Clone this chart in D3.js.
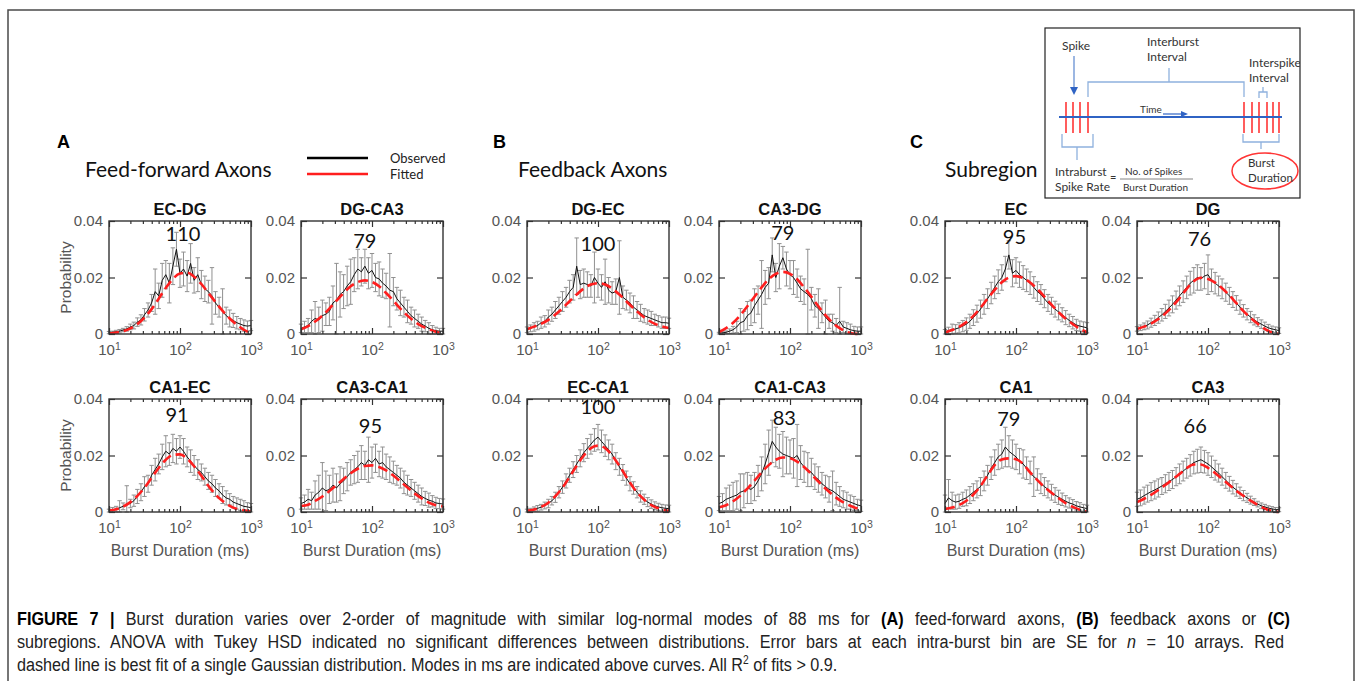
<!DOCTYPE html>
<html>
<head>
<meta charset="utf-8">
<script src="https://cdn.jsdelivr.net/npm/d3@7"></script>
<style>
body { margin: 0; background: #fff; }
</style>
</head>
<body>
<div id="my_dataviz"></div>
<script>
// bin centres of the observed histograms (ms, log spaced)
var bins = [10, 11.2, 12.6, 14.1, 15.8, 17.8, 20, 22.4, 25.1, 28.2,
  31.6, 35.5, 39.8, 44.7, 50.1, 56.2, 63.1, 70.8, 79.4, 89.1,
  100, 112, 126, 141, 158, 178, 200, 224, 251, 282,
  316, 355, 398, 447, 501, 562, 631, 708, 794, 891, 1000];
var fitBins = [10, 12.6, 15.8, 20, 25.1, 31.6, 39.8, 50.1, 63.1, 79.4, 100,
  126, 158, 200, 251, 316, 398, 501, 631, 794, 1000];

// ---- A: feed-forward axons
var ecdgMean = [.0005,.0006,.0008,.0010,.0014,.0018,.0025,.0030,.0042,.0050, .0068,.0085,.0110,.0150,.0135,.0190,.0210,.0180,.0240,.0300, .0215,.0230,.0205,.0250,.0190,.0210,.0175,.0160,.0150,.0135, .0110,.0095,.0080,.0065,.0055,.0048,.0040,.0035,.0030,.0028, .0030];
var ecdgSE = [.0004,.0004,.0005,.0006,.0006,.0008,.0010,.0012,.0015,.0018, .0022,.0025,.0030,.0080,.0045,.0060,.0050,.0070,.0065,.0060, .0050,.0060,.0055,.0070,.0045,.0060,.0050,.0045,.0040,.0100, .0040,.0035,.0080,.0030,.0030,.0025,.0022,.0020,.0020,.0018, .0018];
var ecdgFit = [.0002,.0005,.0010,.0020,.0035,.0058,.0088,.0125,.0163,.0195,.0214,.0217,.0203,.0177,.0145,.0113,.0082,.0055,.0033,.0015,.0003];

var dgca3Mean = [.0020,.0025,.0030,.0045,.0055,.0050,.0065,.0070,.0080,.0110, .0120,.0140,.0150,.0170,.0185,.0210,.0230,.0220,.0240,.0215, .0225,.0200,.0195,.0180,.0170,.0155,.0150,.0125,.0110,.0095, .0080,.0065,.0055,.0045,.0035,.0028,.0020,.0015,.0012,.0010, .0010];
var dgca3SE = [.0015,.0020,.0025,.0040,.0060,.0045,.0055,.0040,.0050,.0060, .0130,.0080,.0060,.0070,.0080,.0060,.0070,.0050,.0060,.0055, .0060,.0050,.0060,.0050,.0045,.0130,.0050,.0040,.0045,.0035, .0040,.0030,.0030,.0025,.0025,.0020,.0020,.0015,.0012,.0010, .0010];
var dgca3Fit = [.0017,.0028,.0044,.0065,.0090,.0118,.0145,.0169,.0184,.0190,.0184,.0169,.0145,.0118,.0090,.0065,.0044,.0028,.0017,.0008,.0002];

var ca1ecMean = [.0005,.0008,.0010,.0015,.0020,.0028,.0030,.0040,.0055,.0070, .0090,.0100,.0130,.0150,.0170,.0195,.0215,.0205,.0225,.0215, .0230,.0215,.0195,.0180,.0165,.0150,.0140,.0125,.0110,.0100, .0085,.0075,.0060,.0050,.0045,.0035,.0030,.0025,.0020,.0018, .0015];
var ca1ecSE = [.0005,.0008,.0010,.0025,.0012,.0065,.0015,.0020,.0025,.0030, .0035,.0030,.0035,.0040,.0035,.0045,.0055,.0040,.0050,.0045, .0040,.0045,.0035,.0040,.0035,.0035,.0030,.0030,.0030,.0030, .0030,.0025,.0030,.0025,.0020,.0020,.0020,.0020,.0020,.0015, .0015];
var ca1ecFit = [.0005,.0010,.0019,.0035,.0057,.0086,.0121,.0156,.0185,.0202,.0204,.0189,.0162,.0128,.0093,.0062,.0039,.0022,.0011,.0006,.0002];

var ca3ca1Mean = [.0030,.0035,.0045,.0040,.0060,.0070,.0085,.0075,.0080,.0095, .0085,.0100,.0110,.0125,.0140,.0150,.0160,.0175,.0165,.0185, .0175,.0190,.0170,.0175,.0160,.0150,.0140,.0130,.0120,.0105, .0095,.0085,.0075,.0065,.0055,.0048,.0042,.0038,.0032,.0030, .0028];
var ca3ca1SE = [.0020,.0025,.0035,.0030,.0050,.0060,.0090,.0070,.0050,.0060, .0050,.0060,.0045,.0050,.0045,.0050,.0055,.0060,.0050,.0080, .0055,.0050,.0045,.0055,.0045,.0045,.0040,.0035,.0035,.0040, .0035,.0030,.0030,.0030,.0030,.0025,.0025,.0020,.0020,.0018, .0018];
var ca3ca1Fit = [.0021,.0026,.0039,.0055,.0074,.0095,.0117,.0137,.0153,.0163,.0165,.0159,.0147,.0129,.0108,.0087,.0066,.0048,.0033,.0024,.0020];

// ---- B: feedback axons
var dgecMean = [.0015,.0020,.0025,.0030,.0040,.0045,.0060,.0070,.0085,.0100, .0115,.0130,.0150,.0165,.0240,.0175,.0180,.0175,.0170,.0200, .0180,.0165,.0185,.0155,.0145,.0150,.0200,.0130,.0120,.0110, .0095,.0085,.0075,.0065,.0060,.0055,.0050,.0045,.0040,.0040, .0038];
var dgecSE = [.0010,.0012,.0015,.0015,.0020,.0020,.0025,.0025,.0030,.0030, .0035,.0035,.0040,.0045,.0100,.0050,.0050,.0045,.0040,.0090, .0050,.0045,.0080,.0045,.0040,.0045,.0130,.0040,.0035,.0035, .0040,.0030,.0030,.0025,.0025,.0025,.0020,.0020,.0020,.0020, .0018];
var dgecFit = [.0017,.0026,.0036,.0050,.0069,.0091,.0116,.0140,.0161,.0175,.0180,.0175,.0161,.0140,.0116,.0091,.0069,.0050,.0036,.0027,.0021];

var ca3dgMean = [.0003,.0004,.0006,.0010,.0015,.0025,.0040,.0045,.0065,.0075, .0100,.0120,.0140,.0165,.0180,.0280,.0200,.0240,.0270,.0230, .0210,.0200,.0180,.0160,.0150,.0140,.0125,.0100,.0090,.0075, .0060,.0045,.0040,.0030,.0045,.0025,.0020,.0015,.0012,.0010, .0010];
var ca3dgSE = [.0003,.0004,.0005,.0008,.0012,.0020,.0050,.0035,.0050,.0045, .0060,.0050,.0120,.0060,.0055,.0060,.0050,.0080,.0040,.0060, .0050,.0060,.0050,.0045,.0045,.0160,.0040,.0040,.0070,.0035, .0060,.0025,.0030,.0025,.0120,.0020,.0020,.0020,.0015,.0015, .0015];
var ca3dgFit = [.0007,.0021,.0040,.0067,.0098,.0132,.0165,.0194,.0213,.0220,.0213,.0194,.0165,.0132,.0098,.0067,.0040,.0021,.0007,.0001,0];

var ecca1Mean = [.0005,.0007,.0010,.0013,.0017,.0023,.0030,.0040,.0052,.0070, .0088,.0110,.0130,.0150,.0170,.0190,.0210,.0225,.0240,.0255, .0265,.0250,.0235,.0220,.0205,.0180,.0160,.0140,.0120,.0100, .0085,.0070,.0055,.0045,.0035,.0028,.0022,.0018,.0015,.0013, .0012];
var ecca1SE = [.0005,.0006,.0008,.0010,.0010,.0012,.0015,.0015,.0018,.0020, .0022,.0025,.0025,.0028,.0030,.0030,.0032,.0035,.0035,.0040, .0045,.0040,.0038,.0035,.0035,.0030,.0030,.0028,.0025,.0025, .0022,.0020,.0020,.0018,.0016,.0015,.0014,.0013,.0012,.0012, .0012];
var ecca1Fit = [.0004,.0009,.0018,.0033,.0056,.0086,.0124,.0164,.0200,.0226,.0235,.0226,.0200,.0164,.0124,.0086,.0056,.0033,.0018,.0009,.0004];

var ca1ca3Mean = [.0030,.0035,.0045,.0050,.0055,.0060,.0070,.0075,.0085,.0080, .0090,.0110,.0135,.0170,.0210,.0250,.0230,.0215,.0205,.0200, .0195,.0190,.0200,.0175,.0160,.0150,.0140,.0125,.0115,.0100, .0090,.0080,.0075,.0065,.0055,.0045,.0040,.0035,.0030,.0025, .0022];
var ca1ca3SE = [.0025,.0030,.0040,.0045,.0050,.0050,.0065,.0060,.0055,.0050, .0050,.0055,.0060,.0070,.0080,.0075,.0070,.0060,.0080,.0065, .0060,.0070,.0110,.0060,.0055,.0060,.0050,.0045,.0045,.0040, .0040,.0045,.0070,.0040,.0035,.0030,.0030,.0025,.0025,.0020, .0020];
var ca1ca3Fit = [.0017,.0024,.0038,.0058,.0083,.0111,.0140,.0166,.0185,.0193,.0190,.0178,.0159,.0134,.0108,.0083,.0061,.0042,.0028,.0017,.0008];

// ---- C: subregions
var ecMean = [.0008,.0012,.0015,.0018,.0022,.0028,.0035,.0045,.0058,.0072, .0088,.0105,.0125,.0145,.0165,.0185,.0200,.0230,.0280,.0215, .0225,.0210,.0200,.0190,.0180,.0165,.0150,.0140,.0125,.0110, .0100,.0088,.0078,.0068,.0058,.0048,.0040,.0032,.0028,.0025, .0022];
var ecSE = [.0008,.0012,.0020,.0015,.0018,.0020,.0022,.0025,.0028,.0030, .0032,.0035,.0035,.0038,.0040,.0042,.0045,.0045,.0050,.0048, .0045,.0045,.0042,.0040,.0040,.0038,.0035,.0035,.0032,.0030, .0030,.0028,.0028,.0025,.0025,.0022,.0022,.0020,.0018,.0018, .0018];
var ecFit = [.0005,.0014,.0025,.0042,.0064,.0093,.0125,.0156,.0183,.0200,.0205,.0198,.0182,.0159,.0132,.0104,.0077,.0054,.0035,.0018,.0006];

var dgMean = [.0018,.0022,.0027,.0032,.0040,.0048,.0058,.0068,.0080,.0092, .0105,.0120,.0135,.0150,.0165,.0180,.0190,.0200,.0195,.0205, .0210,.0190,.0180,.0170,.0160,.0148,.0135,.0122,.0110,.0095, .0082,.0070,.0060,.0050,.0042,.0035,.0028,.0022,.0018,.0015, .0012];
var dgSE = [.0008,.0010,.0012,.0014,.0016,.0018,.0020,.0022,.0025,.0028, .0030,.0032,.0035,.0038,.0040,.0042,.0045,.0045,.0040,.0045, .0070,.0040,.0038,.0035,.0035,.0032,.0030,.0028,.0026,.0025, .0022,.0020,.0020,.0018,.0016,.0015,.0014,.0012,.0010,.0010, .0010];
var dgFit = [.0018,.0026,.0037,.0053,.0073,.0098,.0127,.0160,.0187,.0199,.0195,.0182,.0162,.0137,.0109,.0081,.0057,.0036,.0018,.0005,0];

var ca1Mean = [.0030,.0050,.0040,.0035,.0038,.0045,.0050,.0060,.0070,.0080, .0090,.0110,.0130,.0155,.0175,.0195,.0205,.0230,.0215,.0205, .0195,.0180,.0170,.0155,.0140,.0125,.0115,.0100,.0090,.0080, .0070,.0060,.0052,.0045,.0038,.0032,.0028,.0022,.0018,.0015, .0012];
var ca1SE = [.0030,.0065,.0030,.0025,.0025,.0025,.0028,.0030,.0030,.0030, .0032,.0035,.0035,.0040,.0045,.0045,.0050,.0070,.0055,.0050, .0045,.0045,.0050,.0040,.0040,.0070,.0038,.0035,.0032,.0030, .0028,.0026,.0025,.0022,.0020,.0018,.0016,.0015,.0015,.0012, .0012];
var ca1Fit = [.0011,.0016,.0025,.0040,.0062,.0092,.0130,.0166,.0186,.0190,.0187,.0170,.0140,.0113,.0088,.0068,.0049,.0031,.0018,.0008,.0001];

var ca3Mean = [.0045,.0050,.0058,.0065,.0072,.0078,.0085,.0092,.0100,.0108, .0115,.0125,.0135,.0145,.0155,.0165,.0175,.0180,.0185,.0178, .0170,.0160,.0148,.0138,.0125,.0112,.0100,.0088,.0078,.0068, .0058,.0050,.0042,.0035,.0028,.0022,.0018,.0014,.0011,.0009, .0008];
var ca3SE = [.0025,.0028,.0030,.0030,.0032,.0032,.0032,.0030,.0032,.0032, .0032,.0032,.0035,.0035,.0035,.0038,.0040,.0042,.0045,.0040, .0040,.0038,.0035,.0032,.0030,.0028,.0026,.0024,.0022,.0020, .0018,.0016,.0014,.0012,.0010,.0010,.0009,.0008,.0008,.0007, .0007];
var ca3Fit = [.0035,.0047,.0061,.0078,.0096,.0115,.0135,.0155,.0168,.0168,.0156,.0138,.0117,.0096,.0075,.0057,.0040,.0025,.0012,.0004,0];

// names, modes (ms) and series of the 12 small plots (A1..A4, B1..B4, C1..C4)
var names = ["EC-DG", "DG-CA3", "CA1-EC", "CA3-CA1", "DG-EC", "CA3-DG", "EC-CA1", "CA1-CA3", "EC", "DG", "CA1", "CA3"];
var modes = [110, 79, 91, 95, 100, 79, 100, 83, 95, 76, 79, 66];
var means = [ecdgMean, dgca3Mean, ca1ecMean, ca3ca1Mean, dgecMean, ca3dgMean, ecca1Mean, ca1ca3Mean, ecMean, dgMean, ca1Mean, ca3Mean];
var ses = [ecdgSE, dgca3SE, ca1ecSE, ca3ca1SE, dgecSE, ca3dgSE, ecca1SE, ca1ca3SE, ecSE, dgSE, ca1SE, ca3SE];
var fits = [ecdgFit, dgca3Fit, ca1ecFit, ca3ca1Fit, dgecFit, ca3dgFit, ecca1Fit, ca1ca3Fit, ecFit, dgFit, ca1Fit, ca3Fit];

var panelLetters = ["A", "B", "C"];
var panelTitles = ["Feed-forward Axons", "Feedback Axons", "Subregion"];
var legendLabels = ["Observed", "Fitted"];

var yTicks = [0, 0.02, 0.04];
var yTickLabels = ["0", "0.02", "0.04"];
var xMajor = [10, 100, 1000];
var xMajorExp = ["1", "2", "3"];
var xMinor = [20, 30, 40, 50, 60, 70, 80, 90, 200, 300, 400, 500, 600, 700, 800, 900];

// layout
var W = 1360, H = 681;
var panelLeft = [109, 527, 945],
    letterX = [57, 493, 910],
    titleX = [85, 518, 945],
    colStep = 192,
    rowTop = [221, 399],
    pw = 142,
    ph = 113;

var arial = "'Liberation Sans', Arial, Helvetica, sans-serif";
var calibri = "Lato, 'Open Sans', sans-serif";
var grey = "#555";
var red = "#ff1e1e";

var svg = d3.select("#my_dataviz")
  .append("svg")
    .attr("width", W)
    .attr("height", H);

// figure frame
svg.append("rect")
  .attr("x", 8).attr("y", 10)
  .attr("width", 1346).attr("height", 700)
  .attr("fill", "none")
  .attr("stroke", "#4a4a4a")
  .attr("stroke-width", 1.5);

// panel letters and titles
panelLetters.forEach(function(l, i) {
  svg.append("text")
    .attr("x", letterX[i]).attr("y", 148)
    .attr("font-family", arial).attr("font-weight", "bold")
    .attr("font-size", 18).attr("fill", "#000")
    .text(l);
  svg.append("text")
    .attr("x", titleX[i]).attr("y", 177)
    .attr("font-family", calibri)
    .attr("font-size", 21).attr("fill", "#111")
    .text(panelTitles[i]);
});

// legend (panel A)
var legendColors = ["#000", red];
legendLabels.forEach(function(l, i) {
  var ly = 158 + i * 16;
  svg.append("line")
    .attr("x1", 307).attr("x2", 368)
    .attr("y1", ly).attr("y2", ly)
    .attr("stroke", legendColors[i]).attr("stroke-width", 2.5);
  svg.append("text")
    .attr("x", 390).attr("y", ly + 4.5)
    .attr("font-family", calibri).attr("font-size", 13)
    .attr("fill", "#222")
    .text(l);
});

// the 12 small plots
names.forEach(function(name, i) {
  var panel = Math.floor(i / 4),
      row = Math.floor((i % 4) / 2),
      col = i % 2;
  var left = panelLeft[panel] + col * colStep,
      top = rowTop[row];

  var g = svg.append("g")
    .attr("transform", "translate(" + left + "," + top + ")");

  var x = d3.scaleLog().domain([10, 1000]).range([0, pw]);
  var y = d3.scaleLinear().domain([0, 0.04]).range([ph, 0]);

  var pts = bins.map(function(b, k) {
    return {x: b, m: means[i][k], s: ses[i][k]};
  });

  // error bars
  var eb = g.append("g")
    .attr("stroke", "#858585")
    .attr("stroke-width", 1)
    .attr("opacity", 0.9);
  eb.selectAll(".bar")
    .data(pts)
    .enter()
    .append("line")
      .attr("x1", function(d) { return x(d.x); })
      .attr("x2", function(d) { return x(d.x); })
      .attr("y1", function(d) { return y(Math.max(0, d.m - d.s)); })
      .attr("y2", function(d) { return y(d.m + d.s); });
  eb.selectAll(".capTop")
    .data(pts)
    .enter()
    .append("line")
      .attr("x1", function(d) { return x(d.x) - 2.2; })
      .attr("x2", function(d) { return x(d.x) + 2.2; })
      .attr("y1", function(d) { return y(d.m + d.s); })
      .attr("y2", function(d) { return y(d.m + d.s); });
  eb.selectAll(".capBot")
    .data(pts)
    .enter()
    .append("line")
      .attr("x1", function(d) { return x(d.x) - 2.2; })
      .attr("x2", function(d) { return x(d.x) + 2.2; })
      .attr("y1", function(d) { return y(Math.max(0, d.m - d.s)); })
      .attr("y2", function(d) { return y(Math.max(0, d.m - d.s)); });

  // observed mean
  g.append("path")
    .datum(pts)
    .attr("fill", "none")
    .attr("stroke", "#111")
    .attr("stroke-width", 1)
    .attr("d", d3.line()
      .x(function(d) { return x(d.x); })
      .y(function(d) { return y(d.m); }));

  // fitted gaussian
  var fitPts = fitBins.map(function(b, k) { return {x: b, v: fits[i][k]}; });
  g.append("path")
    .datum(fitPts)
    .attr("fill", "none")
    .attr("stroke", red)
    .attr("stroke-width", 2.6)
    .attr("stroke-dasharray", "10,5")
    .attr("d", d3.line()
      .curve(d3.curveMonotoneX)
      .x(function(d) { return x(d.x); })
      .y(function(d) { return y(d.v); }));

  // axes, ticks pointing in
  function styleAxis(a) {
    a.select(".domain").remove();
    a.selectAll(".tick line").attr("stroke", "#333").attr("stroke-width", 1.2);
    a.selectAll("text").attr("font-family", arial).attr("font-size", 15).attr("fill", grey);
  }
  g.append("g")
    .call(d3.axisLeft(y).tickValues(yTicks).tickSize(-6).tickPadding(6)
      .tickFormat(function(d, k) { return yTickLabels[k]; }))
    .call(styleAxis);
  g.append("g")
    .attr("transform", "translate(" + pw + ",0)")
    .call(d3.axisRight(y).tickValues(yTicks).tickSize(-6).tickFormat(""))
    .call(styleAxis);
  var xb = g.append("g")
    .attr("transform", "translate(0," + ph + ")")
    .call(d3.axisBottom(x).tickValues(xMajor).tickSize(-6).tickPadding(10)
      .tickFormat(function() { return "10"; }))
    .call(styleAxis);
  xb.selectAll(".tick text").each(function(d, k) {
    d3.select(this).append("tspan")
      .attr("dy", "-0.45em")
      .attr("font-size", 10.5)
      .text(xMajorExp[k]);
  });
  g.append("g")
    .attr("transform", "translate(0," + ph + ")")
    .call(d3.axisBottom(x).tickValues(xMinor).tickSize(-3).tickFormat(""))
    .call(styleAxis);
  g.append("g")
    .call(d3.axisTop(x).tickValues(xMajor).tickSize(-6).tickFormat(""))
    .call(styleAxis);
  g.append("g")
    .call(d3.axisTop(x).tickValues(xMinor).tickSize(-3).tickFormat(""))
    .call(styleAxis);

  // frame
  g.append("rect")
    .attr("width", pw).attr("height", ph)
    .attr("fill", "none")
    .attr("stroke", "#333")
    .attr("stroke-width", 1.4);

  // title
  g.append("text")
    .attr("x", pw / 2).attr("y", -6)
    .attr("text-anchor", "middle")
    .attr("font-family", arial).attr("font-weight", "bold")
    .attr("font-size", 16.5).attr("fill", "#111")
    .text(name);

  // mode label above the fitted peak
  g.append("text")
    .attr("x", x(modes[i]))
    .attr("y", y(d3.max(fits[i])) - 32)
    .attr("text-anchor", "middle")
    .attr("font-family", calibri)
    .attr("font-size", 20).attr("fill", "#111")
    .text(modes[i]);

  if (panel === 0 && col === 0) {
    g.append("text")
      .attr("transform", "translate(-38," + (ph / 2) + ") rotate(-90)")
      .attr("text-anchor", "middle")
      .attr("font-family", arial).attr("font-size", 15.5)
      .attr("fill", grey)
      .text("Probability");
  }
  if (row === 1) {
    g.append("text")
      .attr("x", pw / 2).attr("y", ph + 44)
      .attr("text-anchor", "middle")
      .attr("font-family", arial).attr("font-size", 16)
      .attr("fill", grey)
      .text("Burst Duration (ms)");
  }
});

// ---- schematic inset (top right)
var blue = "#2f63c4", lightBlue = "#8fb1de", spikeRed = "#ff3535";
svg.append("clipPath").attr("id", "insetClip")
  .append("rect").attr("x", 1045).attr("y", 28).attr("width", 255).attr("height", 170);
svg.append("rect")
  .attr("x", 1045).attr("y", 28).attr("width", 255).attr("height", 170)
  .attr("fill", "#fff").attr("stroke", "#222").attr("stroke-width", 1.2);
var ic = svg.append("g").attr("clip-path", "url(#insetClip)");

[1066, 1073, 1080, 1088, 1244, 1252, 1259, 1267, 1273, 1279].forEach(function(sx) {
  ic.append("line")
    .attr("x1", sx).attr("x2", sx).attr("y1", 102).attr("y2", 133)
    .attr("stroke", spikeRed).attr("stroke-width", 1.6);
});
ic.append("line")
  .attr("x1", 1059).attr("x2", 1282).attr("y1", 117).attr("y2", 117)
  .attr("stroke", blue).attr("stroke-width", 2.2);

// arrows
ic.append("line").attr("x1", 1074).attr("x2", 1074).attr("y1", 56).attr("y2", 88)
  .attr("stroke", "#5a86cf").attr("stroke-width", 1.2);
ic.append("path").attr("d", "M1070,87 L1078,87 L1074,95 Z").attr("fill", blue);
ic.append("line").attr("x1", 1163).attr("x2", 1182).attr("y1", 114).attr("y2", 114)
  .attr("stroke", blue).attr("stroke-width", 1.2);
ic.append("path").attr("d", "M1181,111 L1188,114 L1181,117 Z").attr("fill", blue);

// brackets
var brackets = [
  "M1088,97 V82 H1244 V97 M1169,82 V68",
  "M1259,98 V92 H1267 V98 M1263,92 V87",
  "M1062,134 V147 H1093 V134 M1077,147 V160",
  "M1243,134 V142 H1279 V134 M1261,142 V149"
];
brackets.forEach(function(b) {
  ic.append("path").attr("d", b)
    .attr("fill", "none").attr("stroke", lightBlue).attr("stroke-width", 1.3);
});
ic.append("line").attr("x1", 1120).attr("x2", 1193).attr("y1", 179).attr("y2", 179)
  .attr("stroke", "#666").attr("stroke-width", 0.8);
ic.append("ellipse").attr("cx", 1265).attr("cy", 171).attr("rx", 33).attr("ry", 18)
  .attr("fill", "none").attr("stroke", spikeRed).attr("stroke-width", 1.5);

var insetText = [
  ["Spike", 1062, 50, 12], ["Interburst", 1147, 46, 12], ["Interval", 1147, 61, 12],
  ["Interspike", 1249, 67, 12], ["Interval", 1249, 82, 12], ["Time", 1140, 113, 10],
  ["Intraburst", 1055, 176, 12], ["Spike Rate", 1055, 191, 12], ["=", 1110, 181, 11],
  ["No. of Spikes", 1125, 175, 10], ["Burst Duration", 1123, 191, 10],
  ["Burst", 1248, 167, 11.5], ["Duration", 1248, 182, 11.5]
];
insetText.forEach(function(t) {
  ic.append("text")
    .attr("x", t[1]).attr("y", t[2])
    .attr("font-family", calibri).attr("font-size", t[3])
    .attr("fill", "#333")
    .text(t[0]);
});

// ---- caption: condensed face, justified lines, last line ragged
var captionLines = [
  [["FIGURE 7 | ", "b"], ["Burst duration varies over 2-order of magnitude with similar log-normal modes of 88 ms for ", ""], ["(A)", "b"], [" feed-forward axons, ", ""], ["(B)", "b"], [" feedback axons or ", ""], ["(C)", "b"]],
  [["subregions. ANOVA with Tukey HSD indicated no significant differences between distributions. Error bars at each intra-burst bin are SE for ", ""], ["n", "i"], [" = 10 arrays. Red", ""]],
  [["dashed line is best fit of a single Gaussian distribution. Modes in ms are indicated above curves. All R", ""], ["2", "sup"], [" of fits > 0.9.", "after"]]
];
var captionLeft = 17;
var captionEnd = [1290, 1284, 838];
var capG = svg.append("g");
var capTexts = captionLines.map(function(parts, li) {
  var t = capG.append("text")
    .attr("x", 0).attr("y", 625 + li * 23)
    .attr("font-family", arial).attr("font-size", 19)
    .attr("fill", "#222")
    .style("white-space", "pre");
  parts.forEach(function(p) {
    var s = t.append("tspan").text(p[0]);
    if (p[1] === "b") s.attr("font-weight", "bold").attr("fill", "#000");
    if (p[1] === "i") s.attr("font-style", "italic");
    if (p[1] === "sup") s.attr("dy", -7).attr("font-size", 12);
    if (p[1] === "after") s.attr("dy", 7);
  });
  return t;
});
// horizontal squeeze taken from the ragged last line
var sx = (captionEnd[2] - captionLeft) / capTexts[2].node().getComputedTextLength();
capG.attr("transform", "translate(" + captionLeft + ",0) scale(" + sx + ",1)");
[0, 1].forEach(function(li) {
  var t = capTexts[li];
  var natural = t.node().getComputedTextLength();
  var spaces = captionLines[li].map(function(p) { return p[0]; }).join("").split(" ").length - 1;
  var target = (captionEnd[li] - captionLeft) / sx;
  t.style("word-spacing", ((target - natural) / spaces) + "px");
});
</script>
</body>
</html>
